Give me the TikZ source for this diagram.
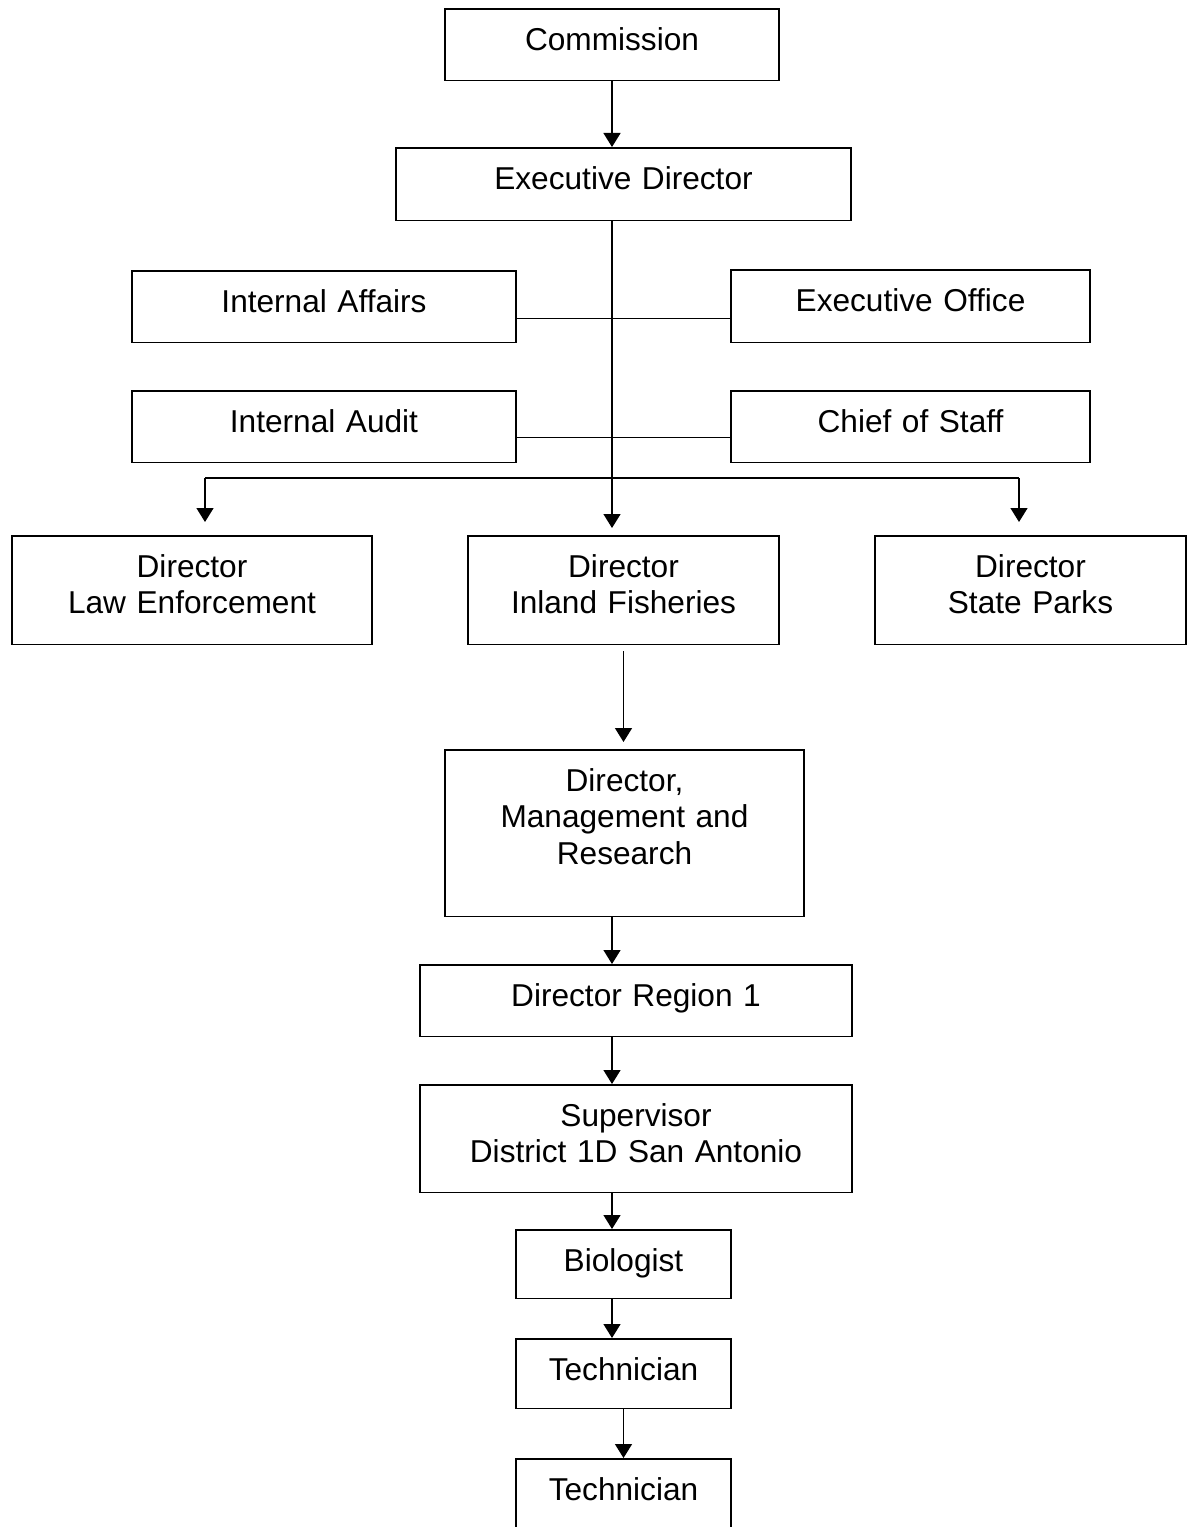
\documentclass[tikz,border=0pt]{standalone}
\usepackage{fontspec}
\setmainfont{Liberation Sans}
\usetikzlibrary{arrows.meta}
\begin{document}
\begin{tikzpicture}
[x=0.02cm,y=-0.02cm,
  boxdecorate/.style={draw,line width=0.9pt,inner sep=0pt,align=center,%
    font=\fontsize{18}{21}\selectfont,text height=23.5pt},%
  linedecorate/.style={-,line width=0.8pt},%
  arrowdecorate/.style={-{Triangle[width=0.34cm,length=0.28cm]},line width=0.8pt}]
\useasboundingbox (0,0) rectangle (1187,1527);
%% boxes: name / centre x / top y / width / height / text
\foreach \nodename/\x/\y/\w/\h/\txt in {
  comm/612/8/334/72/Commission,
  exec/623.5/147/455/73/Executive Director,
  affairs/324/270/384/72/Internal Affairs,
  office/910.5/269/359/73/Executive Office,
  audit/324/390/384/72/Internal Audit,
  staff/910.5/390/359/72/Chief of Staff,
  lawenf/192/535/360/109/{Director\\Law Enforcement},
  fish/623.5/535/311/109/{Director\\Inland Fisheries},
  parks/1030.5/535/311/109/{Director\\State Parks},
  mgmt/624.5/749/359/167/{Director,\\Management and\\Research},
  region/636/964/432/72/Director Region 1,
  super/636/1084/432/108/{Supervisor\\District 1D San Antonio},
  bio/623.5/1229/215/69/Biologist,
  tech1/623.5/1338/215/70/Technician,
  tech2/623.5/1458/215/76/Technician}
{
  \pgfmathsetmacro\boxwd{\w*0.5691}
  \pgfmathsetmacro\boxdp{(\h-41.5)*0.5691}
  \node (\nodename) at (\x,\y) [boxdecorate,anchor=north,text width=\boxwd pt,
    text depth=\boxdp pt] {\txt};
}
%% branch points
\coordinate (lbranch) at (205,478);
\coordinate (rbranch) at (1019,478);
%% edges or lines
\draw[arrowdecorate] (comm.south) -- (comm.south |- exec.north);
\draw[arrowdecorate,shorten >=0.14cm] (exec.south -| comm.south) -- (fish.north -| comm.south);
\draw[linedecorate] ([yshift=-0.24cm]affairs.east) -- ([yshift=-0.24cm]affairs.east -| office.west);
\draw[linedecorate] ([yshift=-0.22cm]audit.east) -- ([yshift=-0.22cm]audit.east -| staff.west);
\draw[linedecorate] (lbranch) -- (rbranch);
\draw[arrowdecorate,shorten >=0.26cm] (lbranch) -- (lbranch |- lawenf.north);
\draw[arrowdecorate,shorten >=0.26cm] (rbranch) -- (rbranch |- parks.north);
\draw[arrowdecorate,shorten <=0.12cm,shorten >=0.14cm] (fish.south) -- (mgmt.north -| fish.south);
\path
\foreach \startnode/\endnode in {mgmt/region, region/super, super/bio, bio/tech1} {
  (\startnode.south -| comm.south) edge[arrowdecorate] (\endnode.north -| comm.south)
};
\draw[arrowdecorate] (tech1.south) -- (tech2.north);
\end{tikzpicture}
\end{document}
